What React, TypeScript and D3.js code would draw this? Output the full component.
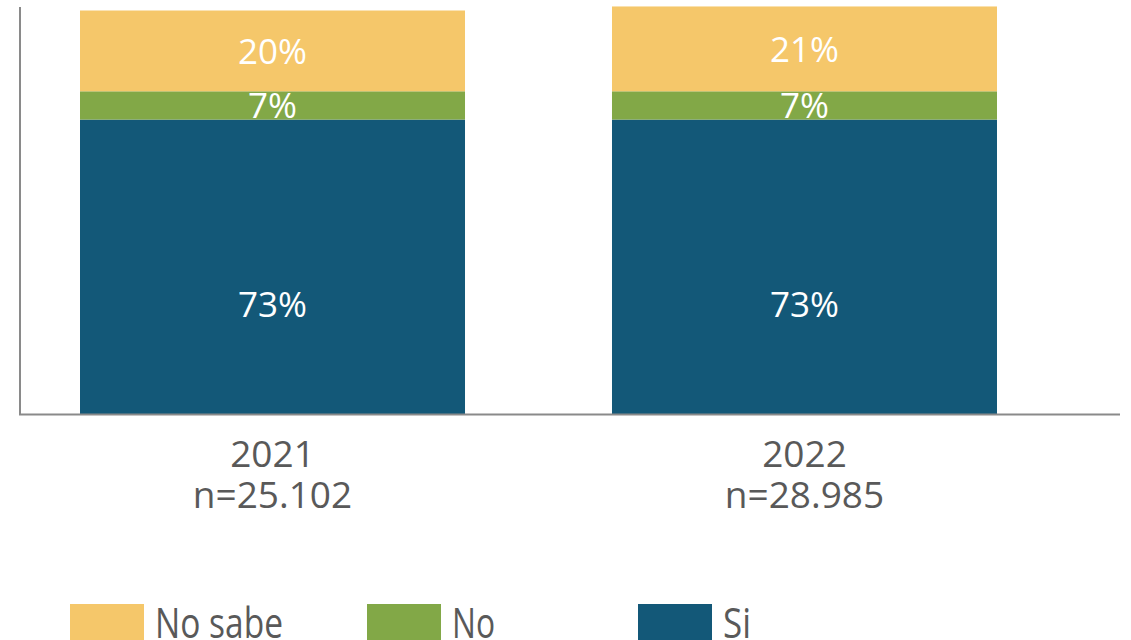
import React from "react";
import * as d3 from "d3";

const categories = ["2021", "2022"];
const sampleSizes = ["n=25.102", "n=28.985"];
const seriesNames = ["Si", "No", "No sabe"];
const siValues = [73, 73];
const noValues = [7, 7];
const noSabeValues = [20, 21];
const colors = ["#135878", "#82A847", "#F5C76A"];
const legendOrder = ["No sabe", "No", "Si"];

const W = 1131;
const H = 640;

export default function App() {
  const x = d3
    .scaleBand<string>()
    .domain(categories)
    .range([20, 1057])
    .paddingInner(0.2763)
    .paddingOuter(0.1128);
  const y = d3.scaleLinear().domain([0, 100]).range([414.5, 10.5]);
  const color = d3.scaleOrdinal<string, string>().domain(seriesNames).range(colors);

  const rows = categories.map((c, i) => ({
    cat: c,
    Si: siValues[i],
    No: noValues[i],
    "No sabe": noSabeValues[i],
  }));
  const stacked = d3.stack<any>().keys(seriesNames)(rows);

  const font = "'Open Sans', 'Noto Sans', sans-serif";
  const legendX = [70, 367, 638];
  const legendTextLen = [128, 43, 28];

  return (
    <svg
      width={W}
      height={H}
      style={{ position: "absolute", left: 0, top: 0, background: "#fff" }}
      fontFamily={font}
    >
      {stacked.map((layer, li) => (
        <g key={layer.key}>
          {layer.map((d, i) => {
            const x0 = x(categories[i])!;
            const top = y(d[1]);
            const bot = y(d[0]);
            const mid = (top + bot) / 2;
            const labelY = li === 0 ? mid + 50 : mid + 13;
            return (
              <g key={i}>
                <rect
                  x={x0}
                  y={top}
                  width={x.bandwidth()}
                  height={bot - top}
                  fill={color(layer.key)}
                />
                <text
                  x={x0 + x.bandwidth() / 2}
                  y={labelY}
                  textAnchor="middle"
                  fill="#fff"
                  fontSize={35}
                >
                  {`${d[1] - d[0]}%`}
                </text>
              </g>
            );
          })}
        </g>
      ))}
      <line x1={20} y1={7} x2={20} y2={415} stroke="#8a8a8a" strokeWidth={2} />
      <line x1={19} y1={414.5} x2={1120} y2={414.5} stroke="#8a8a8a" strokeWidth={2} />
      {categories.map((c, i) => (
        <g key={c}>
          <text
            x={x(c)! + x.bandwidth() / 2}
            y={467}
            textAnchor="middle"
            fill="#595959"
            fontSize={37}
          >
            {c}
          </text>
          <text
            x={x(c)! + x.bandwidth() / 2}
            y={508}
            textAnchor="middle"
            fill="#595959"
            fontSize={37}
          >
            {sampleSizes[i]}
          </text>
        </g>
      ))}
      {legendOrder.map((name, i) => (
        <g key={name}>
          <rect x={legendX[i]} y={604} width={74} height={40} fill={color(name)} />
          <text
            x={legendX[i] + 85}
            y={638}
            fill="#595959"
            fontSize={42}
            textLength={legendTextLen[i]}
            lengthAdjust="spacingAndGlyphs"
          >
            {name}
          </text>
        </g>
      ))}
    </svg>
  );
}
